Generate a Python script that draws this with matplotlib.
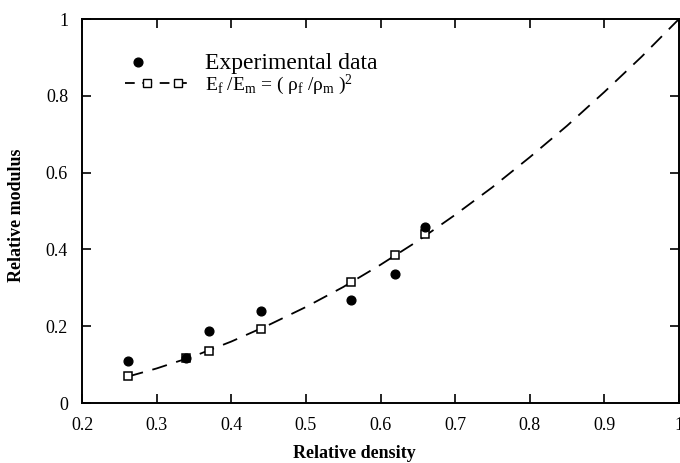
import matplotlib
matplotlib.use("Agg")
import matplotlib.pyplot as plt
from matplotlib.legend_handler import HandlerLine2D, HandlerTuple

# Data
exp_density = [0.262, 0.34, 0.37, 0.44, 0.56, 0.62, 0.66]
exp_modulus = [0.110, 0.117, 0.187, 0.240, 0.267, 0.337, 0.459]

model_density = [0.262, 0.34, 0.37, 0.44, 0.56, 0.62, 0.66]
model_modulus = [0.071, 0.117, 0.136, 0.193, 0.315, 0.385, 0.441]

curve_density = [0.262, 0.30, 0.35, 0.40, 0.45, 0.50, 0.55, 0.60, 0.65, 0.70, 0.75, 0.80, 0.85, 0.90, 0.95, 1.00]
curve_modulus = [0.069, 0.090, 0.122, 0.160, 0.203, 0.250, 0.302, 0.360, 0.422, 0.490, 0.562, 0.640, 0.722, 0.810, 0.902, 1.000]

xticks = [0.2, 0.3, 0.4, 0.5, 0.6, 0.7, 0.8, 0.9, 1.0]
xticklabels = ["0.2", "0.3", "0.4", "0.5", "0.6", "0.7", "0.8", "0.9", "1"]
yticks = [0, 0.2, 0.4, 0.6, 0.8, 1.0]
yticklabels = ["0", "0.2", "0.4", "0.6", "0.8", "1"]

plt.rcParams["font.family"] = ["Liberation Serif", "DejaVu Serif"]
plt.rcParams["mathtext.fontset"] = "custom"
plt.rcParams["mathtext.rm"] = "Liberation Serif"
plt.rcParams["mathtext.it"] = "Liberation Serif"
plt.rcParams["lines.scale_dashes"] = False


class FracHandler(HandlerLine2D):
    """Legend line handler placing markers at given fractions of the handle."""

    def __init__(self, fracs, **kw):
        super().__init__(numpoints=max(len(fracs), 1), **kw)
        self.fracs = fracs

    def get_xdata(self, legend, xdescent, ydescent, width, height, fontsize):
        xs = [-xdescent + f * width for f in self.fracs]
        return xs, xs


fig = plt.figure(figsize=(6.8, 4.63), dpi=100)
ax = fig.add_axes([82 / 680, 1 - 403 / 463, 597 / 680, 384 / 463])

# model curve (dashed) and squares
ax.plot(curve_density, curve_modulus, color="black", lw=1.3, dashes=(11, 7), zorder=2)
ax.plot(model_density, model_modulus, linestyle="none", marker="s", ms=5.3,
        mfc="white", mec="black", mew=1.1, zorder=3)
ax.plot(exp_density, exp_modulus, linestyle="none", marker="o", ms=6.3,
        color="black", zorder=4)

# legend handles
h1, = ax.plot([], [], linestyle="none", marker="o", ms=6.3, color="black")
h2_line, = ax.plot([], [], color="black", lw=1.3, dashes=(7, 5.5))
h2_mark, = ax.plot([], [], linestyle="none", marker="s", ms=5.5,
                   mfc="white", mec="black", mew=1.0)
leg = ax.legend([h1, (h2_line, h2_mark)],
                ["Experimental data",
                 r"E$_{\mathrm{f}}$ /E$_{\mathrm{m}}$ = ( $\rho_{\mathrm{f}}$ /$\rho_{\mathrm{m}}$ )$^{\mathrm{2}}$"],
                loc="upper left", bbox_to_anchor=(0.072, 0.912), frameon=False,
                fontsize=14, handlelength=3.34, handletextpad=0.77,
                labelspacing=-0.05, borderpad=0.0, borderaxespad=0.0,
                handler_map={h1: FracHandler([0.2]),
                             h2_line: FracHandler([0.0, 1.0]),
                             h2_mark: FracHandler([0.34, 0.815]),
                             tuple: HandlerTuple(ndivide=1)})
leg.get_texts()[0].set_fontsize(17)

ax.set_xlim(0.2, 1.0)
ax.set_ylim(0, 1.0)
ax.set_xticks(xticks)
ax.set_xticklabels(xticklabels)
ax.set_yticks(yticks)
ax.set_yticklabels(yticklabels)
ax.tick_params(direction="in", length=6.5, width=1.2, top=True, right=True,
               labelsize=13, pad=10)
for s in ax.spines.values():
    s.set_linewidth(1.4)

ax.set_xlabel("Relative density", fontsize=13, fontweight="bold")
ax.xaxis.set_label_coords(0.457, -0.109)
ax.set_ylabel("Relative modulus", fontsize=13, fontweight="bold")
ax.yaxis.set_label_coords(-0.095, 0.49)

fig.savefig("out.png", dpi=100)
